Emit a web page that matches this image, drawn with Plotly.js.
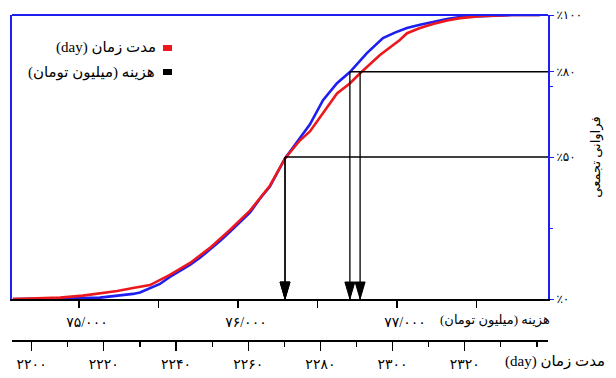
<!DOCTYPE html>
<html>
<head>
<meta charset="utf-8">
<script src="https://cdn.plot.ly/plotly-3.0.1.min.js"></script>
<style>html,body{margin:0;padding:0;background:#fff;}#chart{width:616px;height:378px;}</style>
</head>
<body>
<div id="chart"></div>
<script>
// Cost curve (blue): cost (million toman) vs cumulative %
const costValues = [74585, 74755, 74925, 75132, 75258, 75340, 75384, 75447, 75509, 75572,
  75635, 75698, 75761, 75824, 75887, 75950, 76013, 76075, 76138, 76201,
  76296, 76390, 76453, 76535, 76623, 76704, 76811, 76912, 76987, 77063,
  77145, 77226, 77314, 77396, 77566, 77730, 77899];
const costCumPct = [0, 0, 0.2, 0.5, 1.2, 1.8, 2.3, 3.9, 5.3, 7.8,
  9.8, 12.0, 14.5, 17.3, 20.4, 23.7, 27.0, 30.4, 35.3, 39.6,
  49.5, 56.9, 61.5, 70.0, 76.0, 79.9, 86.6, 91.9, 93.8, 95.4,
  96.6, 97.5, 98.6, 99.3, 99.6, 100, 100];

// Duration curve (red): days vs cumulative %
const durationDays = [2194.8, 2200.4, 2207.9, 2214.2, 2218.9, 2223.7, 2228.1, 2232.8, 2238.3, 2243.9,
  2249.4, 2255.0, 2260.5, 2266.0, 2270.2, 2274.3, 2277.1, 2280.7, 2284.6, 2288.2,
  2291.0, 2296.5, 2302.0, 2304.0, 2307.6, 2311.2, 2315.1, 2318.7, 2324.2, 2332.5, 2340.8];
const durationCumPct = [0, 0.2, 0.5, 1.2, 1.9, 2.8, 3.9, 4.9, 8.5, 12.7,
  18.0, 24.4, 31.1, 39.9, 49.5, 55.8, 59.0, 65.4, 72.4, 76.0,
  79.5, 85.9, 91.2, 93.6, 95.4, 96.8, 98.1, 98.9, 99.6, 100, 100];

// Probability levels and values read at them
const levelPct = [50, 80];
const costAtLevel = [76296, 76704];
const durationAtLevel = [2270.2, 2291.0];

// Tick labels
const costTickVals = [75000, 75500, 76000, 76500, 77000, 77500];
const costTickText = ['۷۵/۰۰۰', '', '۷۶/۰۰۰', '', '۷۷/۰۰۰', ''];
const durTickVals = [2200, 2220, 2240, 2260, 2280, 2300, 2320];
const durTickText = ['۲۲۰۰', '۲۲۲۰', '۲۲۴۰', '۲۲۶۰', '۲۲۸۰', '۲۳۰۰', '۲۳۲۰'];
const durMinorVals = [2210, 2230, 2250, 2270, 2290, 2310, 2330, 2340];
const pctTickVals = [0, 50, 80, 100];
const pctTickText = ['٪۰', '٪۵۰', '٪۸۰', '٪۱۰۰'];

const legendLabels = ['\u202Bمدت زمان (day)\u202C', '\u202Bهزینه (میلیون تومان)\u202C'];
const costTitle = '\u202Bهزینه (میلیون تومان)\u202C';
const durTitle = '\u202Bمدت زمان (day)\u202C';
const pctTitle = 'فراوانی تجمعی';

const costRange = [74579, 77950];
const durRange = [2194.57, 2343.05];

const RED = 'rgb(236,24,30)';
const BLUE = 'rgb(30,30,240)';
const FONT = 'Liberation Serif, DejaVu Sans, serif';

const traces = [
  {x: durationDays, y: durationCumPct, xaxis: 'x2', yaxis: 'y', type: 'scatter', mode: 'lines',
   line: {color: RED, width: 2.6}, showlegend: false, hoverinfo: 'skip'},
  {x: costValues, y: costCumPct, xaxis: 'x', yaxis: 'y', type: 'scatter', mode: 'lines',
   line: {color: BLUE, width: 2.6}, showlegend: false, hoverinfo: 'skip'}
];

const shapes = [];
shapes.push({type: 'line', xref: 'paper', yref: 'y domain', x0: 0, x1: 1, y0: 1, y1: 1,
  line: {color: BLUE, width: 2}});
levelPct.forEach((p, i) => {
  shapes.push({type: 'line', xref: 'x', yref: 'y', x0: costAtLevel[i], x1: costRange[1], y0: p, y1: p,
    line: {color: 'black', width: 1.5}});
});
function vArrow(xref, xv, top) {
  shapes.push({type: 'line', xref: xref, yref: 'y', x0: xv, x1: xv, y0: 0, y1: top,
    line: {color: 'black', width: 1.3}});
  shapes.push({type: 'path', xref: xref, yref: 'y', xsizemode: 'pixel', ysizemode: 'pixel',
    xanchor: xv, yanchor: 0, path: 'M-5,17 L5,17 L0,0 Z',
    fillcolor: 'black', line: {color: 'black', width: 1}});
}
levelPct.forEach((p, i) => {
  vArrow('x', costAtLevel[i], p);
  vArrow('x2', durationAtLevel[i], p);
});
shapes.push({type: 'rect', xref: 'paper', yref: 'paper', x0: 0.2817, x1: 0.2985, y0: 0.8896, y1: 0.9080,
  fillcolor: RED, line: {width: 0}});
shapes.push({type: 'rect', xref: 'paper', yref: 'paper', x0: 0.2817, x1: 0.2985, y0: 0.8160, y1: 0.8344,
  fillcolor: 'black', line: {width: 0}});

const annotations = [
  {xref: 'paper', yref: 'paper', x: 0.272, y: 0.899, xanchor: 'right', yanchor: 'middle', showarrow: false,
   text: legendLabels[0], font: {family: FONT, size: 15, color: 'black'}},
  {xref: 'paper', yref: 'paper', x: 0.270, y: 0.825, xanchor: 'right', yanchor: 'middle', showarrow: false,
   text: legendLabels[1], font: {family: FONT, size: 15, color: 'black'}},
  {xref: 'paper', yref: 'paper', x: 1.008, y: 0.064, xanchor: 'right', yanchor: 'middle', showarrow: false,
   text: costTitle, font: {family: FONT, size: 13, color: 'black'}},
  {xref: 'paper', yref: 'paper', x: 1.110, y: -0.064, xanchor: 'right', yanchor: 'middle', showarrow: false,
   text: durTitle, font: {family: FONT, size: 15, color: 'black'}}
];

const layout = {
  width: 616, height: 378,
  margin: {l: 12, r: 68, t: 15, b: 37},
  paper_bgcolor: 'white', plot_bgcolor: 'white',
  showlegend: false,
  font: {family: FONT, size: 12, color: 'black'},
  xaxis: {
    range: costRange, anchor: 'y', side: 'bottom',
    showline: true, linecolor: 'black', linewidth: 2, layer: 'below traces',
    showgrid: false, zeroline: false,
    tickmode: 'array', tickvals: costTickVals, ticktext: costTickText,
    ticks: 'outside', ticklen: 7, tickwidth: 1.2, tickcolor: 'black',
    ticklabelstandoff: 2, ticklabelshift: 8,
    tickfont: {family: FONT, size: 14, color: 'black'}
  },
  xaxis2: {
    range: durRange, overlaying: 'x', anchor: 'free', position: 0, side: 'bottom',
    showline: true, linecolor: 'black', linewidth: 2,
    showgrid: false, zeroline: false,
    tickmode: 'array', tickvals: durTickVals, ticktext: durTickText,
    ticks: 'outside', ticklen: 9, tickwidth: 1.2, tickcolor: 'black',
    ticklabelstandoff: 1,
    minor: {tickmode: 'array', tickvals: durMinorVals, ticks: 'outside', ticklen: 5, tickwidth: 1.2, tickcolor: 'black', showgrid: false},
    tickfont: {family: FONT, size: 14, color: 'black'}
  },
  yaxis: {
    range: [0, 100], domain: [0.1288, 1], anchor: 'x', side: 'right',
    showline: true, mirror: true, linecolor: BLUE, linewidth: 2,
    showgrid: false, zeroline: false,
    tickmode: 'array', tickvals: pctTickVals, ticktext: pctTickText,
    ticks: 'outside', ticklen: 4, tickcolor: BLUE,
    minor: {tickmode: 'array', tickvals: [25, 75], ticks: 'outside', ticklen: 3, tickcolor: BLUE, showgrid: false},
    tickfont: {family: FONT, size: 12, color: 'black'},
    title: {text: pctTitle, standoff: 10, font: {family: FONT, size: 13, color: 'black'}}
  },
  shapes: shapes,
  annotations: annotations
};

Plotly.newPlot('chart', traces, layout, {displayModeBar: false, staticPlot: true});
</script>
</body>
</html>
